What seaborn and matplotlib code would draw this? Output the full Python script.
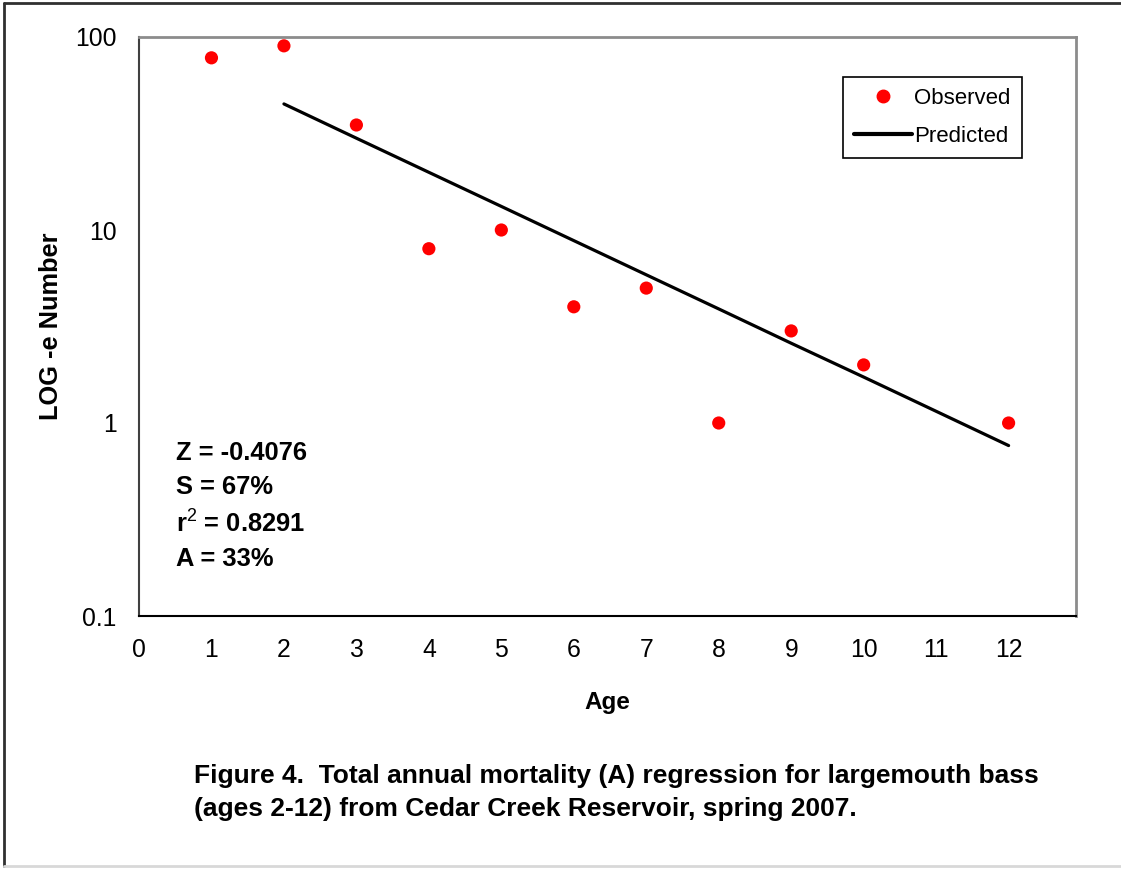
import numpy as np
import pandas as pd
import seaborn as sns
import matplotlib.pyplot as plt
from matplotlib.lines import Line2D

# observed catch by age
obs_age = [1, 2, 3, 4, 5, 6, 7, 8, 9, 10, 12]
obs_num = [78, 90, 35, 8, 10, 4, 5, 1, 3, 2, 1]

# regression line for ages 2-12
pred_age = [2, 3, 4, 5, 6, 7, 8, 9, 10, 11, 12]
pred_num = [45.0, 29.9, 19.9, 13.25, 8.81, 5.86, 3.90, 2.59, 1.73, 1.15, 0.764]

x_ticks = list(range(0, 13))
y_ticks = [0.1, 1, 10, 100]
y_tick_labels = ["0.1", "1", "10", "100"]

stats_lines = ["Z = -0.4076", "S = 67%", "r$^{2}$ = 0.8291", "A = 33%"]
caption = ["Figure 4.  Total annual mortality (A) regression for largemouth bass",
           "(ages 2-12) from Cedar Creek Reservoir, spring 2007."]

obs = pd.DataFrame({"Age": obs_age, "Number": obs_num})
pred = pd.DataFrame({"Age": pred_age, "Number": pred_num})

sns.set_style("white")
plt.rcParams["font.family"] = ["Liberation Sans", "DejaVu Sans"]
plt.rcParams["text.color"] = "black"
plt.rcParams["axes.labelcolor"] = "black"
plt.rcParams["mathtext.fontset"] = "custom"
plt.rcParams["mathtext.bf"] = "Liberation Sans:bold"
plt.rcParams["mathtext.rm"] = "Liberation Sans"

fig = plt.figure(figsize=(11.21, 8.69), dpi=100)
ax = fig.add_axes([139 / 1121, 1 - 616 / 869, (1076 - 139) / 1121, (616 - 37) / 869])

sns.lineplot(data=pred, x="Age", y="Number", color="black", linewidth=2.3, ax=ax)
sns.scatterplot(data=obs, x="Age", y="Number", color="#ff0000", s=90, edgecolor="none", ax=ax, zorder=3)

ax.set_yscale("log")
ax.set_xlim(0, 12.93)
ax.set_ylim(0.1, 100)
ax.set_xticks(x_ticks)
ax.set_yticks(y_ticks)
ax.set_yticklabels(y_tick_labels)
ax.minorticks_off()
ax.tick_params(axis="both", labelsize=17.8, labelcolor="black", direction="out", length=7, width=1.2)
ax.tick_params(axis="x", color="#808080", pad=9)
ax.tick_params(axis="y", color="#202020", pad=9)

for side in ["top", "right"]:
    ax.spines[side].set_color("#8c8c8c")
    ax.spines[side].set_linewidth(2)
ax.spines["left"].set_color("#404040")
ax.spines["left"].set_linewidth(1.5)
ax.spines["bottom"].set_color("black")
ax.spines["bottom"].set_linewidth(1.5)

ax.set_xlabel("Age", fontsize=17.5, fontweight="bold", labelpad=21)
ax.set_ylabel("LOG -e Number", fontsize=18.3, fontweight="bold", labelpad=9)

handles = [Line2D([], [], marker="o", color="#ff0000", linestyle="none", markersize=9),
           Line2D([], [], color="black", linewidth=3)]
leg = ax.legend(handles, ["Observed", "Predicted"], loc="upper right",
                bbox_to_anchor=(0.942, 0.931), fontsize=16, frameon=True, fancybox=False,
                edgecolor="black", framealpha=1, handlelength=2.6, handletextpad=0.1,
                borderpad=0.5, labelspacing=0.76, borderaxespad=0)
leg.get_frame().set_linewidth(1.2)

for txt, yb in zip(stats_lines, [0.2694, 0.2107, 0.1451, 0.0864]):
    ax.text(0.0395, yb, txt, transform=ax.transAxes, fontsize=18.4, fontweight="bold",
            va="baseline", ha="left")

fig.text(194 / 1121, 1 - 783 / 869, caption[0], fontsize=19, fontweight="bold", va="baseline")
fig.text(194 / 1121, 1 - 816 / 869, caption[1], fontsize=19, fontweight="bold", va="baseline")

# page border
fig.add_artist(Line2D([4 / 1121, 4 / 1121], [3 / 869, 1 - 3 / 869], transform=fig.transFigure,
                      color="#303030", linewidth=2))
fig.add_artist(Line2D([4 / 1121, 1], [1 - 3 / 869, 1 - 3 / 869], transform=fig.transFigure,
                      color="#303030", linewidth=2))
fig.add_artist(Line2D([4 / 1121, 1], [3 / 869, 3 / 869], transform=fig.transFigure,
                      color="#d8d8d8", linewidth=2))

fig.savefig("out.png", dpi=100)
